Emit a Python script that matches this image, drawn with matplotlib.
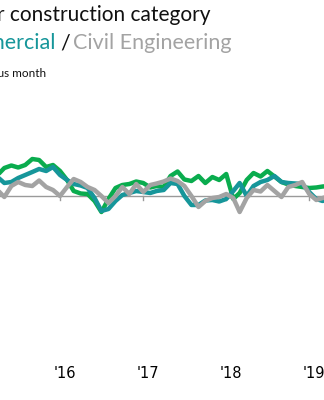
import matplotlib.pyplot as plt
import pandas as pd

# monthly % change, Apr 2015 - Apr 2019
months = pd.date_range('2015-04-01', '2019-04-01', freq='MS')
residential = [
    2.1, 2.8, 3.05, 2.85, 3.1, 3.7, 3.6, 2.9, 3.1, 2.5,
    1.6, 0.5, 0.25, 0.2, -0.5, -1.6, -0.3, 0.8, 1.1, 1.2,
    1.45, 1.3, 0.85, 1.0, 0.9, 2.0, 2.45, 1.65, 1.5, 2.0,
    1.3, 1.9, 1.6, 2.2, -0.3, 0.3, 1.6, 2.3, 1.95, 2.5,
    1.95, 1.4, 1.15, 1.0, 0.9, 0.8, 0.85, 0.95, 1.0,
]
commercial = [
    1.9, 1.3, 1.4, 1.8, 2.1, 2.4, 2.7, 2.5, 2.9, 2.1,
    1.6, 1.2, 1.05, 0.8, -0.2, -1.5, -1.3, -0.5, 0.1, 0.3,
    0.5, 0.4, 0.3, 0.5, 0.6, 1.3, 1.2, 0.0, -0.9, -0.9,
    -0.45, -0.4, -0.55, -0.3, 0.5, 1.3, 0.0, 1.0, 1.4, 1.6,
    2.0, 1.4, 1.3, 1.25, 1.2, 0.4, -0.3, -0.5, -0.3,
]
civil = [
    0.6, -0.1, 1.0, 1.4, 1.1, 1.0, 1.55, 0.9, 0.6, 0.0,
    0.9, 1.7, 1.4, 0.9, 0.6, 0.0, -0.7, 0.0, 0.9, 0.2,
    1.2, 0.4, 1.1, 1.25, 1.45, 1.75, 1.5, 1.0, 0.0, -1.1,
    -0.5, -0.2, -0.1, 0.2, -0.2, -1.6, -0.2, 0.6, 0.45, 1.1,
    0.5, -0.1, 0.9, 1.1, 1.4, 0.2, -0.4, -0.2, 0.0,
]
years = ['2016', '2017', '2018', '2019']
year_labels = ["'16", "'17", "'18", "'19"]

green = '#0aac4e'
teal = '#16969a'
grey = '#a3a3a3'

fig = plt.figure(figsize=(3.24, 4.0), dpi=100)
ax = fig.add_axes([0, 0.1, 1, 0.65])

ax.axhline(0, color='#9a9a9a', lw=1, zorder=1)
for y in years:
    ax.plot([pd.Timestamp(y), pd.Timestamp(y)], [0, -0.35], color='#9a9a9a', lw=1, zorder=1)

ax.plot(months, residential, color=green, lw=3.2, solid_joinstyle='round', solid_capstyle='round', zorder=2)
ax.plot(months, commercial, color=teal, lw=3.2, solid_joinstyle='round', solid_capstyle='round', zorder=3)
ax.plot(months, civil, color=grey, lw=3.2, solid_joinstyle='round', solid_capstyle='round', zorder=4)

ax.set_xlim(pd.Timestamp('2015-04-12'), pd.Timestamp('2019-03-07'))
ax.set_ylim(-16.4, 9.6)
ax.set_xticks([pd.Timestamp(y) + pd.Timedelta(days=22) for y in years])
ax.set_xticklabels(year_labels, fontsize=10.5, family='DejaVu Sans')
ax.tick_params(axis='x', length=0, pad=4)
ax.set_yticks([])
for s in ax.spines.values():
    s.set_visible(False)

# header text (cut off on the left like the reference)
fig.text(210 / 324, 1 - 21 / 400, 'Monthly change for construction category',
         ha='right', va='baseline', fontsize=15, family='Lato', color='#111111')
fig.text(55 / 324, 1 - 49 / 400, 'Commercial', ha='right', va='baseline',
         fontsize=15.5, family='Lato', color=teal)
fig.text(60 / 324, 1 - 49 / 400, '/', ha='left', va='baseline',
         fontsize=15.5, family='Lato', color='#111111')
fig.text(73 / 324, 1 - 49 / 400, 'Civil Engineering', ha='left', va='baseline',
         fontsize=15.5, family='Lato', color=grey)
fig.text(46 / 324, 1 - 77 / 400, '% change from previous month', ha='right', va='baseline',
         fontsize=8.5, family='Lato', color='#111111')

plt.savefig('out.png', dpi=100)
